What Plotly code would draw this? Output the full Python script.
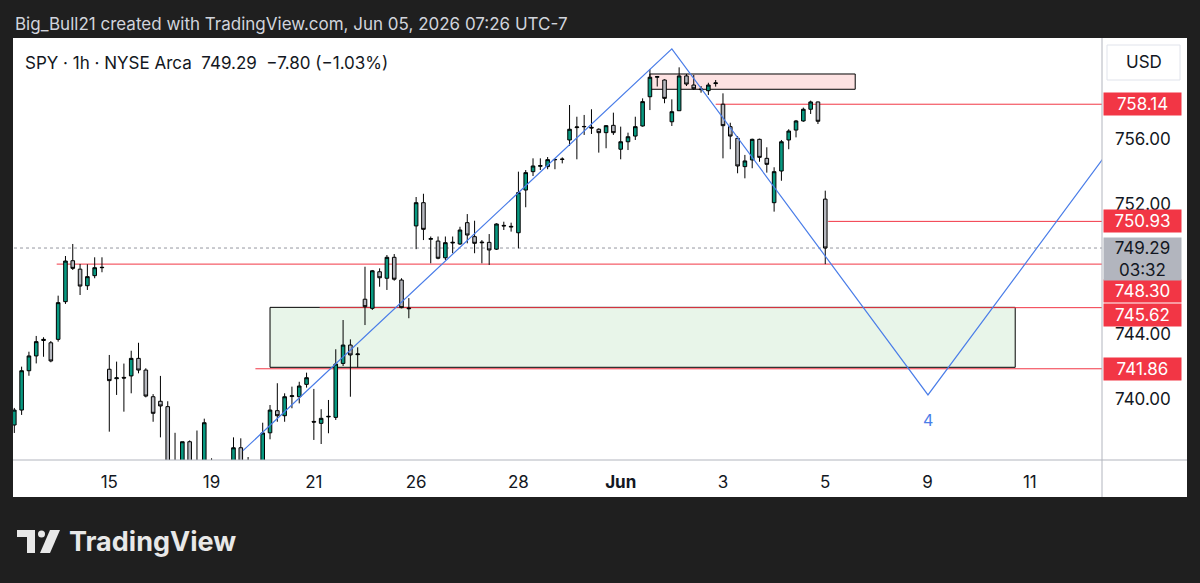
import plotly.graph_objects as go

W, H = 1200, 583

# ---------------- data ----------------
bar_index = list(range(-13, 99))  # hourly bars, 0 = first bar of May 15
open_ = [738.40, 739.32, 741.74, 742.65, 743.60, 743.46, 743.67, 745.99, 748.51, 747.99, 746.97, 747.59, 748.08,
         741.83, 741.25, 741.33, 741.42, 742.50, 741.78, 740.14,
         739.86, 739.53, 735.50, 735.60, 737.37, 736.00, 735.80,
         735.90, 735.50, 735.00, 735.90, 737.00, 736.10, 735.90,
         736.10, 737.92, 739.28, 738.97, 740.15, 740.14, 740.90,
         738.62, 738.50, 738.90, 738.87, 742.19, 743.32, 742.73,
         746.14, 745.58, 747.83, 747.43, 748.72, 747.32, 745.60,
         750.65, 752.08, 749.83, 749.72, 748.69, 749.60, 749.54,
         750.85, 749.99, 749.66, 749.64, 749.22, 750.64, 750.58,
         750.23, 752.86, 753.99, 754.32, 754.30, 754.72, 754.74,
         755.94, 756.70, 756.75, 756.72, 756.60, 756.39, 756.84,
         755.37, 755.83, 756.18, 756.80, 758.60, 759.80, 759.63,
         757.06, 757.74, 759.88, 759.32, 759.08, 758.97, 759.41,
         758.14, 756.76, 756.04, 754.30, 754.71, 755.98, 754.81,
         752.08, 754.03, 755.94, 756.55, 757.11, 757.83, 758.28,
         752.30]
high = [739.45, 741.99, 742.91, 743.88, 743.80, 743.57, 746.36, 748.80, 749.54, 748.31, 748.29, 748.72, 748.72,
        742.71, 742.30, 742.18, 742.97, 743.46, 741.89, 740.30,
        741.42, 739.86, 737.92, 737.37, 737.45, 738.06, 738.79,
        736.35, 736.00, 736.10, 737.64, 737.58, 736.43, 736.20,
        738.54, 739.63, 740.97, 740.35, 740.76, 741.06, 741.62,
        740.62, 739.37, 739.94, 743.06, 744.86, 743.67, 743.18,
        748.14, 747.94, 748.04, 748.86, 748.92, 747.43, 746.21,
        752.43, 752.63, 750.00, 750.00, 750.00, 750.00, 750.60,
        751.38, 750.97, 749.78, 750.15, 750.81, 750.91, 750.85,
        753.99, 754.09, 754.81, 754.81, 754.89, 754.81, 754.87,
        758.09, 757.37, 757.48, 757.83, 756.66, 756.86, 757.62,
        756.76, 756.39, 757.37, 758.50, 760.29, 759.88, 759.67,
        758.44, 760.41, 760.00, 759.94, 759.26, 759.46, 759.63,
        758.81, 757.00, 756.18, 755.02, 756.02, 756.02, 755.49,
        754.26, 755.94, 756.60, 757.17, 757.93, 758.36, 758.30,
        752.82]
low = [737.91, 739.02, 741.43, 742.19, 742.60, 742.26, 743.53, 745.85, 747.94, 746.40, 746.71, 747.43, 747.80,
       737.99, 740.25, 739.22, 740.35, 741.58, 740.10, 738.60,
       737.64, 735.30, 734.30, 735.20, 735.40, 735.00, 735.40,
       735.20, 734.60, 734.70, 735.50, 735.70, 735.60, 735.50,
       735.60, 737.52, 738.60, 738.60, 739.43, 739.73, 740.70,
       737.48, 737.23, 737.89, 738.71, 742.03, 740.14, 741.95,
       744.55, 745.48, 746.91, 746.71, 747.28, 745.58, 744.97,
       749.22, 749.78, 748.35, 748.60, 748.55, 748.97, 749.48,
       749.58, 748.97, 748.35, 748.25, 749.17, 750.40, 750.30,
       749.27, 751.80, 753.72, 754.09, 754.14, 754.14, 754.50,
       755.57, 754.75, 756.25, 756.31, 755.16, 755.43, 756.25,
       754.75, 755.32, 755.94, 756.76, 757.78, 759.23, 758.20,
       756.80, 757.74, 759.26, 759.02, 758.85, 758.71, 759.22,
       754.81, 755.37, 753.89, 753.58, 754.20, 754.60, 753.93,
       751.53, 753.43, 755.37, 756.10, 757.06, 757.54, 756.92,
       748.30]
close = [739.32, 741.74, 742.65, 743.53, 743.67, 742.34, 745.93, 748.49, 748.04, 746.95, 747.53, 748.08, 748.10,
         741.13, 741.30, 741.29, 742.50, 741.78, 740.18, 739.12,
         739.57, 735.63, 734.80, 737.37, 735.90, 735.30, 738.54,
         735.60, 735.00, 735.60, 737.00, 736.00, 735.90, 736.00,
         737.91, 739.32, 738.97, 740.14, 740.20, 740.80, 741.31,
         738.58, 738.81, 738.93, 742.15, 743.32, 742.71, 742.77,
         745.68, 747.89, 747.46, 748.72, 747.37, 745.62, 745.56,
         752.08, 750.44, 749.87, 748.66, 749.62, 749.64, 750.40,
         750.09, 749.58, 749.62, 749.17, 750.77, 750.68, 750.62,
         752.70, 753.93, 754.34, 754.36, 754.73, 754.74, 754.76,
         756.60, 756.74, 756.77, 756.68, 756.39, 756.82, 756.39,
         755.83, 756.14, 756.76, 758.30, 759.80, 759.84, 758.50,
         757.68, 759.88, 759.38, 759.09, 759.04, 759.32, 759.45,
         756.82, 756.18, 754.34, 754.65, 755.98, 754.87, 754.44,
         753.99, 755.83, 756.49, 757.11, 757.83, 758.28, 757.09,
         749.29]

tick_index = [0, 14, 28, 42, 56, 70, 84, 98, 112, 126]
tick_text = ["15", "19", "21", "26", "28", "<b>Jun</b>", "3", "5", "9", "11"]
price_ticks = [740, 744, 752, 756]

level_prices = [758.14, 750.93, 748.30, 745.62, 741.86]
level_start = [83.0, 98.4, -7.2, 28.8, 20.0]
level_label_shift = [0, 0, -27, -7, 0]

demand_zone_x = [22.0, 124.0]
demand_zone_y = [741.95, 745.64]
supply_zone_x = [74.0, 102.1]
supply_zone_y = [759.06, 760.00]

wave_x = [18.3, 77.0, 112.06, 140.0]
wave_y = [736.82, 761.55, 740.25, 757.20]
wave_label = "4"

last_price = 749.29
countdown = "03:32"
title_text = "Big_Bull21 created with TradingView.com, Jun 05, 2026 07:26 UTC-7"
legend_text = "SPY · 1h · NYSE Arca\u00a0\u00a0749.29\u00a0\u00a0−7.80 (−1.03%)"

# ---------------- styling ----------------
FONT = "Inter, Roboto, 'Noto Sans', sans-serif"
FS = 17
DARK = "#1f1f1f"
INK = "#131722"
RED = "#f23645"
UP = "#089981"
DOWN = "#b6b8bf"
BLUE = "#4a7de8"


def px(x):
    return x / W


def py(y):
    return 1 - y / H


X_RANGE = [-13.18, 135.88]
Y_RANGE = [736.246, 762.215]

fig = go.Figure()

fig.add_trace(go.Candlestick(
    x=bar_index, open=open_, high=high, low=low, close=close,
    increasing=dict(fillcolor=UP, line=dict(color="#000000", width=1)),
    decreasing=dict(fillcolor=DOWN, line=dict(color="#000000", width=1)),
    whiskerwidth=0, hoverinfo="skip", showlegend=False,
))

fig.add_trace(go.Scatter(
    x=wave_x, y=wave_y, mode="lines",
    line=dict(color=BLUE, width=1.2), hoverinfo="skip", showlegend=False,
))

shapes = []
# white chart panel
shapes.append(dict(type="rect", xref="paper", yref="paper", x0=px(13), x1=px(1187),
                   y0=py(497), y1=py(38), fillcolor="#ffffff", line=dict(width=0), layer="below"))
# zones
shapes.append(dict(type="rect", xref="x", yref="y", x0=demand_zone_x[0], x1=demand_zone_x[1],
                   y0=demand_zone_y[0], y1=demand_zone_y[1], fillcolor="#e8f5e9",
                   line=dict(color="#000000", width=1), layer="below"))
shapes.append(dict(type="rect", xref="x", yref="y", x0=supply_zone_x[0], x1=supply_zone_x[1],
                   y0=supply_zone_y[0], y1=supply_zone_y[1], fillcolor="#fde2e2",
                   line=dict(color="#000000", width=1), layer="below"))
# level lines
for p, s in zip(level_prices, level_start):
    shapes.append(dict(type="line", xref="x", yref="y", x0=s, x1=300, y0=p, y1=p,
                       line=dict(color=RED, width=1), layer="below"))
# current price dotted line
shapes.append(dict(type="line", xref="x", yref="y", x0=-50, x1=300, y0=last_price, y1=last_price,
                   line=dict(color="#9598a1", width=1, dash="dot"), layer="below"))
# separators
shapes.append(dict(type="line", xref="paper", yref="paper", x0=px(13), x1=px(1187), y0=py(460), y1=py(460),
                   line=dict(color="#b2b5be", width=1), layer="above"))
shapes.append(dict(type="line", xref="paper", yref="paper", x0=px(1102), x1=px(1102), y0=py(38), y1=py(497),
                   line=dict(color="#b2b5be", width=1), layer="above"))
# USD box
shapes.append(dict(type="rect", xref="paper", yref="paper", x0=px(1107), x1=px(1180), y0=py(80), y1=py(45),
                   fillcolor="#ffffff", line=dict(color="#e0e3eb", width=1), layer="above"))
# TradingView logo icon
LOGO = "#e8e8e8"
shapes.append(dict(type="path", xref="paper", yref="paper",
                   path=f"M {px(17)},{py(530)} L {px(35)},{py(530)} L {px(35)},{py(553)} L {px(27)},{py(553)} "
                        f"L {px(27)},{py(537)} L {px(17)},{py(537)} Z",
                   fillcolor=LOGO, line=dict(width=0), layer="above"))
shapes.append(dict(type="circle", xref="paper", yref="paper", x0=px(38), x1=px(45), y0=py(537.5), y1=py(530.5),
                   fillcolor=LOGO, line=dict(width=0), layer="above"))
shapes.append(dict(type="path", xref="paper", yref="paper",
                   path=f"M {px(50)},{py(530)} L {px(60)},{py(530)} L {px(50)},{py(553)} L {px(40)},{py(553)} Z",
                   fillcolor=LOGO, line=dict(width=0), layer="above"))

annotations = []
annotations.append(dict(xref="paper", yref="paper", x=px(13), y=py(24), xanchor="left", yanchor="middle",
                        text=title_text, showarrow=False, font=dict(family=FONT, size=FS, color="#d1d4dc")))
annotations.append(dict(xref="paper", yref="paper", x=px(23), y=py(63), xanchor="left", yanchor="middle",
                        text=legend_text, showarrow=False, font=dict(family=FONT, size=FS, color=INK)))
annotations.append(dict(xref="paper", yref="paper", x=px(1143.5), y=py(62), xanchor="center", yanchor="middle",
                        text="USD", showarrow=False, font=dict(family=FONT, size=FS, color=INK)))
for p, sh in zip(level_prices, level_label_shift):
    annotations.append(dict(xref="paper", yref="y", x=px(1103), y=p, xanchor="left", yanchor="middle",
                            yshift=sh, text=f"{p:.2f}", showarrow=False, bgcolor=RED,
                            width=77, height=22, borderpad=0, align="center",
                            font=dict(family=FONT, size=FS, color="#ffffff")))
annotations.append(dict(xref="paper", yref="y", x=px(1103), y=last_price, xanchor="left", yanchor="top",
                        yshift=11.5, text=f"{last_price:.2f}<br>{countdown}", showarrow=False,
                        bgcolor="#b2b5be", width=77, height=42, borderpad=0, align="center",
                        font=dict(family=FONT, size=FS, color=INK)))
annotations.append(dict(xref="x", yref="y", x=wave_x[2], y=wave_y[2], yshift=-25, text=wave_label,
                        showarrow=False, font=dict(family=FONT, size=16, color=BLUE)))
annotations.append(dict(xref="paper", yref="paper", x=px(67), y=py(541), xanchor="left", yanchor="middle",
                        text="<b>TradingView</b>", showarrow=False,
                        font=dict(family=FONT, size=27, color=LOGO)))

fig.update_layout(
    width=W, height=H, margin=dict(l=0, r=0, t=0, b=0),
    paper_bgcolor=DARK, plot_bgcolor="rgba(0,0,0,0)",
    shapes=shapes, annotations=annotations, showlegend=False,
    font=dict(family=FONT, color=INK),
    xaxis=dict(domain=[px(13), px(1102)], range=X_RANGE, showgrid=False, zeroline=False, showline=False,
               tickmode="array", tickvals=tick_index, ticktext=tick_text, ticks="",
               tickfont=dict(family=FONT, size=FS, color=INK), ticklabelstandoff=10,
               rangeslider=dict(visible=False), fixedrange=True),
    yaxis=dict(domain=[py(460), py(38)], range=Y_RANGE, side="right", showgrid=False, zeroline=False,
               showline=False, tickmode="array", tickvals=price_ticks,
               ticktext=[f"{v:.2f}" for v in price_ticks], ticks="",
               tickfont=dict(family=FONT, size=FS, color=INK), ticklabelstandoff=12, fixedrange=True),
)

fig.write_html("out.html")
